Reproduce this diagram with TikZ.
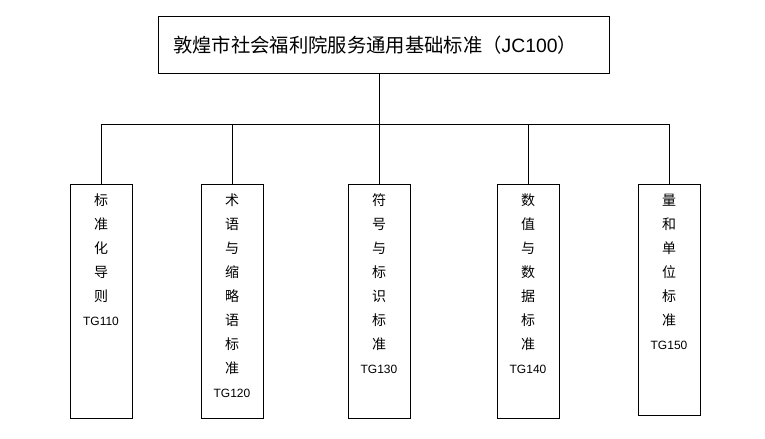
\documentclass[tikz,border=0pt]{standalone}
\usepackage{fontspec}
\setmainfont{Noto Sans CJK SC}
\newfontfamily\latfont{Liberation Sans}
\usetikzlibrary{positioning}
\tikzset{
  topbox/.style={draw, minimum width=451*0.75pt, minimum height=57*0.75pt, inner sep=0pt},
  toptext/.style={inner sep=0pt, font=\fontsize{14.5pt}{16pt}\selectfont},
  leafbox/.style={draw, minimum width=62*0.75pt, minimum height=234*0.75pt, inner sep=0pt},
  leaftext/.style={anchor=north, align=center, inner sep=0pt, font=\fontsize{10.5pt}{18pt}\selectfont}
}
\begin{document}
\begin{tikzpicture}[x=0.75pt, y=-0.75pt]
\useasboundingbox (0,0) rectangle (765,439);

\node[topbox] (top) at (383.5,44.5) {};
\node[toptext] (title) at (375,45) {敦煌市社会福利院服务通用基础标准（{\latfont JC100}）};
\coordinate (bus) at (379,124);

\node[leafbox] (c1) at (101,301) {};
\node[leafbox] (c2) at (232,301) {};
\node[leafbox] (c3) at (379,301) {};
\node[leafbox] (c4) at (528,301) {};
\node[leafbox, minimum height=231*0.75pt] (c5) at (669,299.5) {};

\node[leaftext, below=10*0.75pt of c1.north] (t1) {标\\准\\化\\导\\则\\{\latfont\small TG110}};
\node[leaftext, below=10*0.75pt of c2.north] (t2) {术\\语\\与\\缩\\略\\语\\标\\准\\{\latfont\small TG120}};
\node[leaftext, below=10*0.75pt of c3.north] (t3) {符\\号\\与\\标\\识\\标\\准\\{\latfont\small TG130}};
\node[leaftext, below=10*0.75pt of c4.north] (t4) {数\\值\\与\\数\\据\\标\\准\\{\latfont\small TG140}};
\node[leaftext, below=10*0.75pt of c5.north] (t5) {量\\和\\单\\位\\标\\准\\{\latfont\small TG150}};

\draw (top.south -| bus) -- (bus);
\draw (c1.north) -- (c1.north |- bus) -- (c5.north |- bus) -- (c5.north);
\foreach \i in {2,3,4}
  \draw (c\i.north) -- (c\i.north |- bus);
\end{tikzpicture}
\end{document}
